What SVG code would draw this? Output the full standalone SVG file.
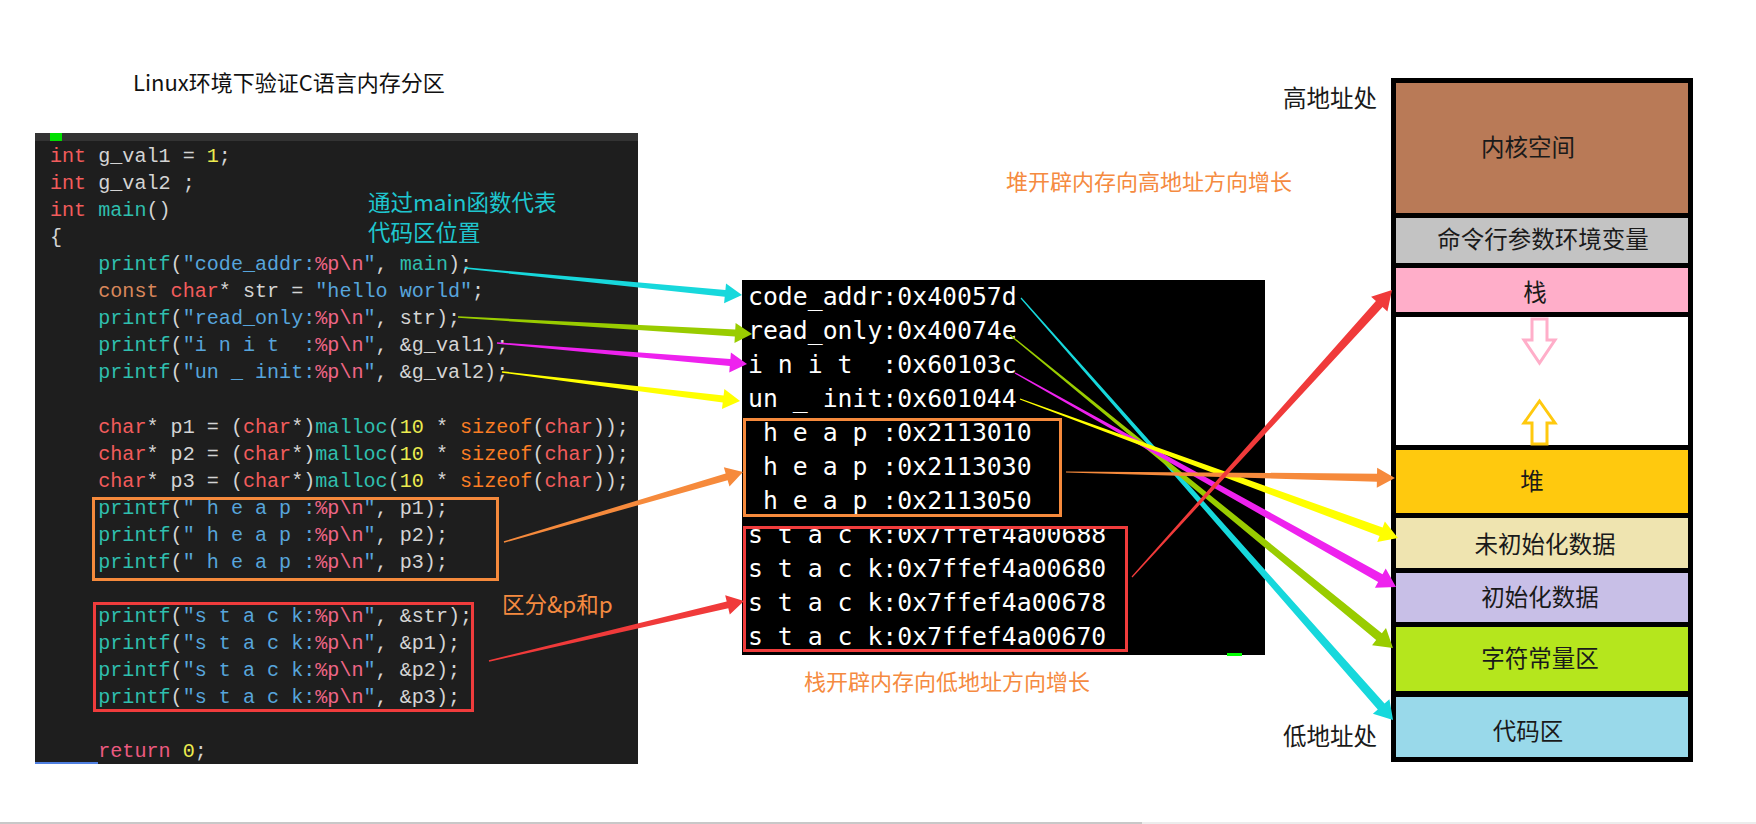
<svg xmlns="http://www.w3.org/2000/svg" width="1756" height="824" viewBox="0 0 1756 824">
<style>
.code{font-family:"Liberation Mono","DejaVu Sans Mono",monospace;font-size:20.1px;fill:#d4d4d4;white-space:pre}
.kw{fill:#f25c5c}.cn{fill:#d9875b}.fn{fill:#2fbfae}.s{fill:#57a5dc}.f{fill:#ef6686}.n{fill:#ecec4f}.sz{fill:#fa7d24}.rt{fill:#ec5a80}
.term{font-family:"DejaVu Sans Mono",monospace;font-size:24.8px;fill:#ffffff;white-space:pre}
.cjk{font-family:"Noto Sans CJK SC",sans-serif}
.lbl{font-family:"Noto Sans CJK SC",sans-serif;font-size:23.5px;fill:#1a1a1a;text-anchor:middle}
.side{font-family:"Noto Sans CJK SC",sans-serif;font-size:23.5px;fill:#1a1a1a}
.ot{font-family:"Noto Sans CJK SC",sans-serif;font-size:22px;fill:#f58a40}
.box{fill:none;stroke-width:3}
</style>
<defs>
<clipPath id="clipStack1"><rect x="742" y="529" width="520" height="30"/></clipPath>
</defs>
<rect width="1756" height="824" fill="#ffffff"/>

<g id="title">
<text x="133" y="91" class="cjk" font-size="22" fill="#111">Linux环境下验证C语言内存分区</text>
</g>

<g id="code-panel">
<rect x="35" y="133" width="603" height="631" fill="#1e1e1e"/>
<rect x="35" y="133" width="603" height="8" fill="#333333"/>
<rect x="50" y="133" width="12" height="8" fill="#00e000"/>
<rect x="35" y="762" width="63" height="2" fill="#4f7fe0"/>
<text class="code" x="50" y="162" xml:space="preserve"><tspan class="kw">int</tspan> g_val1 = <tspan class="n">1</tspan>;</text>
<text class="code" x="50" y="189" xml:space="preserve"><tspan class="kw">int</tspan> g_val2 ;</text>
<text class="code" x="50" y="216" xml:space="preserve"><tspan class="kw">int</tspan> <tspan class="fn">main</tspan>()</text>
<text class="code" x="50" y="243" xml:space="preserve">{</text>
<text class="code" x="50" y="270" xml:space="preserve">    <tspan class="fn">printf</tspan>(<tspan class="s">"code_addr:</tspan><tspan class="f">%p\n</tspan><tspan class="s">"</tspan>, <tspan class="fn">main</tspan>);</text>
<text class="code" x="50" y="297" xml:space="preserve">    <tspan class="cn">const</tspan> <tspan class="kw">char</tspan>* str = <tspan class="s">"hello world"</tspan>;</text>
<text class="code" x="50" y="324" xml:space="preserve">    <tspan class="fn">printf</tspan>(<tspan class="s">"read_only:</tspan><tspan class="f">%p\n</tspan><tspan class="s">"</tspan>, str);</text>
<text class="code" x="50" y="351" xml:space="preserve">    <tspan class="fn">printf</tspan>(<tspan class="s">"i n i t  :</tspan><tspan class="f">%p\n</tspan><tspan class="s">"</tspan>, &amp;g_val1);</text>
<text class="code" x="50" y="378" xml:space="preserve">    <tspan class="fn">printf</tspan>(<tspan class="s">"un _ init:</tspan><tspan class="f">%p\n</tspan><tspan class="s">"</tspan>, &amp;g_val2);</text>
<text class="code" x="50" y="432.5" xml:space="preserve">    <tspan class="kw">char</tspan>* p1 = (<tspan class="kw">char</tspan>*)<tspan class="fn">malloc</tspan>(<tspan class="n">10</tspan> * <tspan class="sz">sizeof</tspan>(<tspan class="kw">char</tspan>));</text>
<text class="code" x="50" y="459.6" xml:space="preserve">    <tspan class="kw">char</tspan>* p2 = (<tspan class="kw">char</tspan>*)<tspan class="fn">malloc</tspan>(<tspan class="n">10</tspan> * <tspan class="sz">sizeof</tspan>(<tspan class="kw">char</tspan>));</text>
<text class="code" x="50" y="486.6" xml:space="preserve">    <tspan class="kw">char</tspan>* p3 = (<tspan class="kw">char</tspan>*)<tspan class="fn">malloc</tspan>(<tspan class="n">10</tspan> * <tspan class="sz">sizeof</tspan>(<tspan class="kw">char</tspan>));</text>
<text class="code" x="50" y="513.7" xml:space="preserve">    <tspan class="fn">printf</tspan>(<tspan class="s">" h e a p :</tspan><tspan class="f">%p\n</tspan><tspan class="s">"</tspan>, p1);</text>
<text class="code" x="50" y="540.7" xml:space="preserve">    <tspan class="fn">printf</tspan>(<tspan class="s">" h e a p :</tspan><tspan class="f">%p\n</tspan><tspan class="s">"</tspan>, p2);</text>
<text class="code" x="50" y="567.8" xml:space="preserve">    <tspan class="fn">printf</tspan>(<tspan class="s">" h e a p :</tspan><tspan class="f">%p\n</tspan><tspan class="s">"</tspan>, p3);</text>
<text class="code" x="50" y="621.9" xml:space="preserve">    <tspan class="fn">printf</tspan>(<tspan class="s">"s t a c k:</tspan><tspan class="f">%p\n</tspan><tspan class="s">"</tspan>, &amp;str);</text>
<text class="code" x="50" y="648.9" xml:space="preserve">    <tspan class="fn">printf</tspan>(<tspan class="s">"s t a c k:</tspan><tspan class="f">%p\n</tspan><tspan class="s">"</tspan>, &amp;p1);</text>
<text class="code" x="50" y="676" xml:space="preserve">    <tspan class="fn">printf</tspan>(<tspan class="s">"s t a c k:</tspan><tspan class="f">%p\n</tspan><tspan class="s">"</tspan>, &amp;p2);</text>
<text class="code" x="50" y="703" xml:space="preserve">    <tspan class="fn">printf</tspan>(<tspan class="s">"s t a c k:</tspan><tspan class="f">%p\n</tspan><tspan class="s">"</tspan>, &amp;p3);</text>
<text class="code" x="50" y="757" xml:space="preserve">    <tspan class="rt">return</tspan> <tspan class="n">0</tspan>;</text>
<rect class="box" x="93.5" y="498.5" width="404" height="81" stroke="#f68a3c"/>
<rect class="box" x="94.5" y="603.5" width="378" height="107" stroke="#f03c3c"/>
<text x="368" y="211" class="cjk" font-size="22.5" fill="#1fc6cf">通过main函数代表</text>
<text x="368" y="241" class="cjk" font-size="22.5" fill="#1fc6cf">代码区位置</text>
<text x="502" y="613" class="cjk" font-size="22.5" fill="#f58a40">区分&amp;p和p</text>
</g>

<g id="terminal">
<rect x="742" y="280" width="523" height="375" fill="#000000"/>
<text class="term" x="748" y="305" xml:space="preserve">code_addr:0x40057d</text>
<text class="term" x="748" y="339" xml:space="preserve">read_only:0x40074e</text>
<text class="term" x="748" y="373" xml:space="preserve">i n i t  :0x60103c</text>
<text class="term" x="748" y="407" xml:space="preserve">un _ init:0x601044</text>
<text class="term" x="748" y="441" xml:space="preserve"> h e a p :0x2113010</text>
<text class="term" x="748" y="475" xml:space="preserve"> h e a p :0x2113030</text>
<text class="term" x="748" y="509" xml:space="preserve"> h e a p :0x2113050</text>
<text class="term" x="748" y="543" xml:space="preserve" clip-path="url(#clipStack1)">s t a c k:0x7ffef4a00688</text>
<text class="term" x="748" y="577" xml:space="preserve">s t a c k:0x7ffef4a00680</text>
<text class="term" x="748" y="611" xml:space="preserve">s t a c k:0x7ffef4a00678</text>
<text class="term" x="748" y="645" xml:space="preserve">s t a c k:0x7ffef4a00670</text>
<rect class="box" x="744.5" y="419.5" width="316" height="96" stroke="#f68a3c"/>
<rect class="box" x="744.5" y="527.5" width="382" height="123" stroke="#f03c3c"/>
<rect x="1227" y="653" width="15" height="3" fill="#00ff00"/>
</g>

<g id="notes">
<text x="1006" y="190" class="ot">堆开辟内存向高地址方向增长</text>
<text x="804" y="690" class="ot">栈开辟内存向低地址方向增长</text>
<text x="1283" y="107" class="side">高地址处</text>
<text x="1283" y="745" class="side">低地址处</text>
</g>

<g id="memory-column">
<rect x="1391" y="78" width="302" height="684" fill="#000000"/>
<g id="kernel"><rect x="1396" y="83" width="292" height="130" fill="#b97a57"/><text class="lbl" x="1528" y="155.5">内核空间</text></g>
<g id="env"><rect x="1396" y="218" width="292" height="45" fill="#c3c3c3"/><text class="lbl" x="1543" y="247.5">命令行参数环境变量</text></g>
<g id="stack"><rect x="1396" y="268" width="292" height="44" fill="#ffaec9"/><text class="lbl" x="1535" y="300.5">栈</text></g>
<g id="gap"><rect x="1396" y="317" width="292" height="128" fill="#ffffff"/>
<polygon points="1532,319 1547,319 1547,340 1555,340 1539.5,363 1524,340 1532,340" fill="none" stroke="#ffaec9" stroke-width="3"/>
<polygon points="1539.5,401 1555,423 1547,423 1547,444 1532,444 1532,423 1524,423" fill="none" stroke="#ffc90e" stroke-width="3"/>
</g>
<g id="heap"><rect x="1396" y="450" width="292" height="63" fill="#ffc90e"/><text class="lbl" x="1532" y="489.5">堆</text></g>
<g id="bss"><rect x="1396" y="518" width="292" height="50" fill="#efe4b0"/><text class="lbl" x="1545" y="552.5">未初始化数据</text></g>
<g id="data"><rect x="1396" y="573" width="292" height="49" fill="#c8bfe7"/><text class="lbl" x="1540" y="605.5">初始化数据</text></g>
<g id="rodata"><rect x="1396" y="627" width="292" height="64" fill="#b5e61d"/><text class="lbl" x="1540" y="666.5">字符常量区</text></g>
<g id="text-seg"><rect x="1396" y="697" width="292" height="60" fill="#99d9ea"/><text class="lbl" x="1528" y="739.5">代码区</text></g>
</g>

<g id="connectors">
<polygon transform="translate(465,268) rotate(5.57)" points="0,-0.75 261.3,-3.5 261.3,-10 278.3,0 261.3,10 261.3,3.5 0,0.75" fill="#17d8dc"/>
<polygon transform="translate(458,317) rotate(3.31)" points="0,-0.75 277.5,-3.5 277.5,-10 294.5,0 277.5,10 277.5,3.5 0,0.75" fill="#99cc00"/>
<polygon transform="translate(497,343) rotate(4.80)" points="0,-0.75 233.9,-3.5 233.9,-10 250.9,0 233.9,10 233.9,3.5 0,0.75" fill="#ee22ee"/>
<polygon transform="translate(502,372) rotate(6.95)" points="0,-0.75 222.8,-3.5 222.8,-10 239.8,0 222.8,10 222.8,3.5 0,0.75" fill="#ffff00"/>
<polygon transform="translate(504,542) rotate(-16.32)" points="0,-0.75 232,-3.5 232,-10 249,0 232,10 232,3.5 0,0.75" fill="#f68a3c"/>
<polygon transform="translate(489,661) rotate(-13.24)" points="0,-0.75 245,-3.5 245,-10 262,0 245,10 245,3.5 0,0.75" fill="#f03a3a"/>
<polygon transform="translate(1021,298) rotate(48.60)" points="0,-0.6 544.6,-4.5 544.6,-11 562.6,0 544.6,11 544.6,4.5 0,0.6" fill="#17d8dc"/>
<polygon transform="translate(1010,335) rotate(39.26)" points="0,-0.6 476.6,-4.5 476.6,-11 494.6,0 476.6,11 476.6,4.5 0,0.6" fill="#99cc00"/>
<polygon transform="translate(1015,373) rotate(29.32)" points="0,-0.6 419,-4.5 419,-11 437,0 419,11 419,4.5 0,0.6" fill="#ee22ee"/>
<polygon transform="translate(1020,399) rotate(20.19)" points="0,-0.6 384.7,-4.5 384.7,-11 402.7,0 384.7,11 384.7,4.5 0,0.6" fill="#ffff00"/>
<polygon transform="translate(1066,472) rotate(1.04)" points="0,-0.6 311,-4 311,-10 329,0 311,10 311,4 0,0.6" fill="#f68a3c"/>
<polygon transform="translate(1132,577) rotate(-47.83)" points="0,-0.6 368.3,-4.5 368.3,-11 387.3,0 368.3,11 368.3,4.5 0,0.6" fill="#f03a3a"/>
</g>

<g id="scrollbar">
<rect x="0" y="822" width="1142" height="2" fill="#c8c8c8"/>
<rect x="1142" y="822" width="614" height="2" fill="#ececec"/>
</g>
</svg>
